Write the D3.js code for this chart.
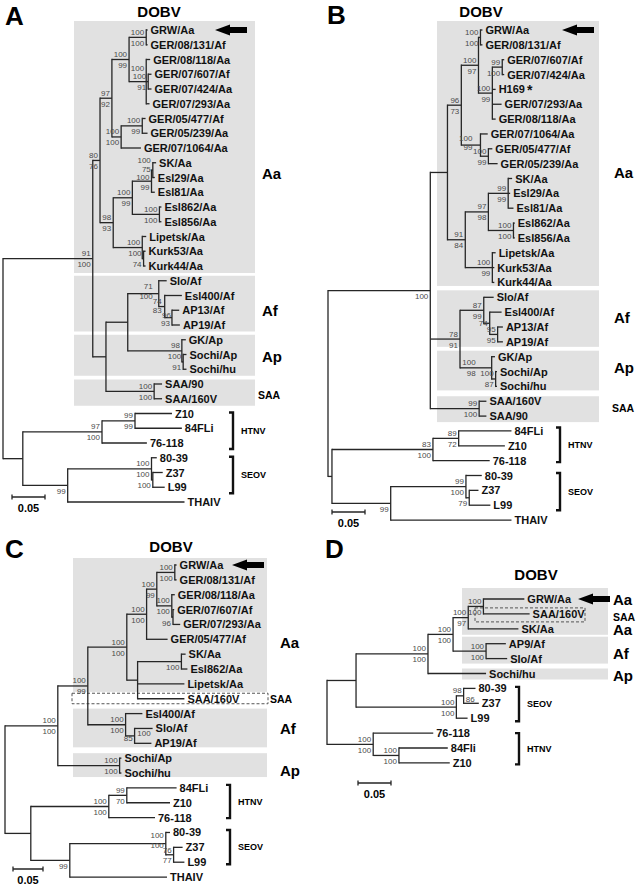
<!DOCTYPE html>
<html><head><meta charset="utf-8">
<script src="https://cdn.jsdelivr.net/npm/d3@7"></script>
<style>body{margin:0;background:#fff}svg{display:block}</style>
</head><body><svg id="c" width="639" height="887"></svg>
<script>
// ---------- DATA: [node, parent, branch length (subst./site), bootstrap "above|below"] ----------
const treeA = [
 ["rA",null,0,""],
 ["dobvA","rA",0.136,"91|100"],
 ["aaA","dobvA",0.011,"80|76"],
 ["gerA","aaA",0.018,"97|92"],
 ["a1","gerA",0.026,"100|99"],
 ["a2","a1",0.026,"100|100"],
 ["GRW/Aa","a2",0.002,""],
 ["GER/08/131/Af","a2",0.002,""],
 ["a3","a1",0.026,"100|"],
 ["GER/08/118/Aa","a3",0.006,""],
 ["a3b","a3",0.003,"100|91"],
 ["GER/07/607/Af","a3b",0.005,""],
 ["GER/07/424/Aa","a3b",0.005,""],
 ["GER/07/293/Aa","a3",0.005,""],
 ["a4","gerA",0.014,"100|100"],
 ["a5","a4",0.032,"100|99"],
 ["GER/05/477/Af","a5",0.005,""],
 ["GER/05/239/Aa","a5",0.008,""],
 ["GER/07/1064/Aa","a4",0.030,""],
 ["skA","aaA",0.020,"98|93"],
 ["a6","skA",0.029,"100|99"],
 ["a7","a6",0.029,"100|99"],
 ["a7b","a7",0.002,"100|75"],
 ["SK/Aa","a7b",0.005,""],
 ["Esl29/Aa","a7b",0.003,""],
 ["Esl81/Aa","a7",0.005,""],
 ["a8","a6",0.041,"100|100"],
 ["Esl862/Aa","a8",0.003,""],
 ["Esl856/Aa","a8",0.003,""],
 ["a9","skA",0.044,"100|"],
 ["Lipetsk/Aa","a9",0.006,""],
 ["a10","a9",0.002,"100|74"],
 ["Kurk53/Aa","a10",0.003,""],
 ["Kurk44/Aa","a10",0.003,""],
 ["a11","dobvA",0.020,""],
 ["a12","a11",0.033,""],
 ["afA","a12",0.047,"71|100"],
 ["Slo/Af","afA",0.012,""],
 ["a13","afA",0.009,"74|83"],
 ["Esl400/Af","a13",0.026,""],
 ["a14","a13",0.011,"96|93"],
 ["AP13/Af","a14",0.011,""],
 ["AP19/Af","a14",0.012,""],
 ["apA","a12",0.082,"98|"],
 ["GK/Ap","apA",0.006,""],
 ["a15","apA",0.002,"100|91"],
 ["Sochi/Ap","a15",0.005,""],
 ["Sochi/hu","a15",0.005,""],
 ["saaA","a11",0.073,"100|100"],
 ["SAA/90","saaA",0.012,""],
 ["SAA/160V","saaA",0.012,""],
 ["outA","rA",0.030,""],
 ["htnvA","outA",0.120,"97|100"],
 ["a16","htnvA",0.050,"99|99"],
 ["Z10","a16",0.056,""],
 ["84FLi","a16",0.071,""],
 ["76-118","htnvA",0.068,""],
 ["a17","outA",0.068,"|99"],
 ["seovA","a17",0.127,"100|100"],
 ["80-39","seovA",0.008,""],
 ["a18","seovA",0.002,"|100"],
 ["Z37","a18",0.015,""],
 ["L99","a18",0.018,""],
 ["THAIV","a17",0.177,""]
];
const treeB = [
 ["rB",null,0,""],
 ["dobvB","rB",0.155,"|100"],
 ["aaB","dobvB",0.026,""],
 ["gerB","aaB",0.021,"96|73"],
 ["b1","gerB",0.026,"100|97"],
 ["b2","b1",0.003,"100|100"],
 ["GRW/Aa","b2",0.003,""],
 ["GER/08/131/Af","b2",0.003,""],
 ["bH","b1",0.021,"100|99"],
 ["bH1","bH",0.015,"99|100"],
 ["GER/07/607/Af","bH1",0.003,""],
 ["GER/07/424/Aa","bH1",0.003,""],
 ["H169","bH",0.005,""],
 ["GER/07/293/Aa","bH",0.014,""],
 ["GER/08/118/Aa","bH",0.005,""],
 ["b3","gerB",0.029,"100|99"],
 ["GER/07/1064/Aa","b3",0.011,""],
 ["b4","b3",0.012,"100|99"],
 ["GER/05/477/Af","b4",0.006,""],
 ["GER/05/239/Aa","b4",0.014,""],
 ["skB","aaB",0.027,"91|84"],
 ["b5","skB",0.035,"97|98"],
 ["b6","b5",0.030,"99|99"],
 ["SK/Aa","b6",0.006,""],
 ["Esl29/Aa","b6",0.003,""],
 ["Esl81/Aa","b6",0.008,""],
 ["b7","b5",0.038,"100|100"],
 ["Esl862/Aa","b7",0.002,""],
 ["Esl856/Aa","b7",0.002,""],
 ["b8","skB",0.041,"100|99"],
 ["Lipetsk/Aa","b8",0.005,""],
 ["Kurk53/Aa","b8",0.003,""],
 ["Kurk44/Aa","b8",0.003,""],
 ["b9","dobvB",0.045,"78|91"],
 ["afB","b9",0.036,"87|99"],
 ["Slo/Af","afB",0.015,""],
 ["b10","afB",0.009,"|74"],
 ["Esl400/Af","b10",0.018,""],
 ["b11","b10",0.012,"95|95"],
 ["AP13/Af","b11",0.008,""],
 ["AP19/Af","b11",0.008,""],
 ["apB","b9",0.048,"100|98"],
 ["GK/Ap","apB",0.005,""],
 ["b12","apB",0.006,"100|87"],
 ["Sochi/Ap","b12",0.002,""],
 ["Sochi/hu","b12",0.002,""],
 ["saaB","dobvB",0.074,"99|100"],
 ["SAA/160V","saaB",0.011,""],
 ["SAA/90","saaB",0.011,""],
 ["outB","rB",0.006,""],
 ["htnvB","outB",0.153,"83|100"],
 ["b13","htnvB",0.039,"89|72"],
 ["84FLi","b13",0.080,""],
 ["Z10","b13",0.070,""],
 ["76-118","htnvB",0.086,""],
 ["b14","outB",0.089,"|99"],
 ["seovB","b14",0.114,"99|100"],
 ["80-39","seovB",0.024,""],
 ["b15","seovB",0.005,"|79"],
 ["Z37","b15",0.014,""],
 ["L99","b15",0.032,""],
 ["THAIV","b14",0.183,""]
];
const treeC = [
 ["rC",null,0,""],
 ["dobvC","rC",0.088,"100|100"],
 ["c0","dobvC",0.050,"100|99"],
 ["aaC","c0",0.065,"100|100"],
 ["gerC","aaC",0.033,"100|100"],
 ["c1","gerC",0.017,"100|99"],
 ["c2","c1",0.030,"100|100"],
 ["GRW/Aa","c2",0.003,""],
 ["GER/08/131/Af","c2",0.003,""],
 ["c3","c1",0.025,"100|100"],
 ["GER/08/118/Aa","c3",0.005,""],
 ["c3b","c3",0.002,"|96"],
 ["GER/07/607/Af","c3b",0.002,""],
 ["GER/07/293/Aa","c3b",0.012,""],
 ["GER/05/477/Af","gerC",0.035,""],
 ["c4","aaC",0.018,""],
 ["c5","c4",0.073,"|100"],
 ["SK/Aa","c5",0.007,""],
 ["Esl862/Aa","c5",0.010,""],
 ["Lipetsk/Aa","c4",0.078,""],
 ["SAA/160V","c4",0.078,""],
 ["afC","c0",0.063,"100|100"],
 ["Esl400/Af","afC",0.028,""],
 ["c6","afC",0.015,"100|85"],
 ["Slo/Af","c6",0.030,""],
 ["AP19/Af","c6",0.028,""],
 ["sochiC","dobvC",0.103,"100|100"],
 ["Sochi/Ap","sochiC",0.003,""],
 ["Sochi/hu","sochiC",0.003,""],
 ["outC","rC",0.043,""],
 ["htnvC","outC",0.130,"100|100"],
 ["c7","htnvC",0.030,"99|70"],
 ["84FLi","c7",0.083,""],
 ["Z10","c7",0.072,""],
 ["76-118","htnvC",0.077,""],
 ["c8","outC",0.065,"|99"],
 ["seovC","c8",0.160,"100|100"],
 ["80-39","seovC",0.007,""],
 ["c9","seovC",0.013,"76|77"],
 ["Z37","c9",0.015,""],
 ["L99","c9",0.018,""],
 ["THAIV","c8",0.162,""]
];
const treeD = [
 ["rD",null,0,""],
 ["d1","rD",0.044,""],
 ["dobvD","d1",0.109,"100|100"],
 ["d2","dobvD",0.038,"100|100"],
 ["d3","d2",0.023,"100|97"],
 ["d4","d3",0.023,"100|100"],
 ["GRW/Aa","d4",0.062,""],
 ["SAA/160V","d4",0.070,""],
 ["SK/Aa","d3",0.076,""],
 ["d5","d2",0.050,"100|100"],
 ["AP9/Af","d5",0.030,""],
 ["Slo/Af","d5",0.032,""],
 ["Sochi/hu","dobvD",0.088,""],
 ["seovD","d1",0.152,"100|100"],
 ["d6","seovD",0.011,"98|86"],
 ["80-39","d6",0.018,""],
 ["Z37","d6",0.023,""],
 ["L99","seovD",0.017,""],
 ["htnvD","rD",0.070,"100|100"],
 ["76-118","htnvD",0.091,""],
 ["d7","htnvD",0.039,"100|100"],
 ["84Fli","d7",0.074,""],
 ["Z10","d7",0.077,""]
];
// group labels: [text, anchor leaf]
const groupsA = [["Aa","Esl29/Aa"],["Af","AP13/Af"],["Ap","Sochi/Ap"],["SAA","SAA/160V"]];
const groupsB = [["Aa","SK/Aa"],["Af","Esl400/Af"],["Ap","Sochi/Ap"],["SAA","SAA/160V"]];
const groupsC = [["Aa","GER/05/477/Af"],["SAA","SAA/160V"],["Af","Slo/Af"],["Ap","Sochi/hu"]];
const groupsD = [["Aa","GRW/Aa"],["SAA","SAA/160V"],["Aa","SK/Aa"],["Af","Slo/Af"],["Ap","Sochi/hu"]];
// virus species brackets: [text, first leaf, last leaf]
const bracketsA = [["HTNV","Z10","76-118"],["SEOV","80-39","L99"]];
const bracketsB = [["HTNV","84FLi","76-118"],["SEOV","80-39","L99"]];
const bracketsC = [["HTNV","84FLi","76-118"],["SEOV","80-39","L99"]];
const bracketsD = [["SEOV","80-39","L99"],["HTNV","76-118","Z10"]];
// shaded clade boxes: [first leaf, last leaf]
const boxesA = [["GRW/Aa","Kurk44/Aa"],["Slo/Af","AP19/Af"],["GK/Ap","Sochi/hu"],["SAA/90","SAA/160V"]];
const boxesB = [["GRW/Aa","Kurk44/Aa"],["Slo/Af","AP19/Af"],["GK/Ap","Sochi/hu"],["SAA/160V","SAA/90"]];
const boxesC = [["GRW/Aa","Lipetsk/Aa"],["Esl400/Af","AP19/Af"],["Sochi/Ap","Sochi/hu"]];
const boxesD = [["GRW/Aa","SK/Aa"],["AP9/Af","Slo/Af"],["Sochi/hu","Sochi/hu"]];
const dashedC = [["SAA/160V","SAA/160V"]];
const dashedD = [["SAA/160V","SAA/160V"]];
const starred = ["H169"];
const scaleValue = 0.05;
const cladeTitle = "DOBV";

// ---------- LAYOUT / STYLE ----------
// nudges of crowded bootstrap labels: tx/ty (upper), bx/by (lower)
const labelAdjust = {
 a3:{ty:-8}, a7b:{ty:-5, by:-7}, a7:{ty:1}, afA:{tx:-4, bx:-4, ty:-2, by:-3}, a13:{tx:-1, bx:-1, ty:0, by:-2}, a14:{tx:1, ty:3},
 apB:{tx:-14, bx:-14}, b3:{tx:-6, bx:-6, ty:-2, by:-4}, b10:{by:-6},
 c6:{tx:18, ty:3, by:-3}, seovC:{ty:-3, by:-4}, c9:{ty:1},
 d6:{bx:13, by:-2}
};
const panels = [
 {letter:"A", tree:treeA, rootX:3, y0:30, step:14.75, barPx:33, letterXY:[5,25], titleXY:[159,17],
  boxX:[74,255], boxes:boxesA, boxPad:[[9,7],[5,6.5],[5,6.5],[4.5,7]], dashed:[], dashX:[0,0], dashPad:[],
  groups:groupsA, groupDy:[-4.5,0,1.5,-4], groupX:262, saaX:258,
  brackets:bracketsA, bracketX:233, bracketPad:[[1,6],[1,6]], arrowX:215, scaleXY:[12,497]},
 {letter:"B", tree:treeB, rootX:328, y0:30, step:14.85, barPx:33, letterXY:[327,24], titleXY:[481,17],
  boxX:[437,599], boxes:boxesB, boxPad:[[9,3.5],[7,5],[6,4],[5,6]], dashed:[], dashX:[0,0], dashPad:[],
  groups:groupsB, groupDy:[-6.5,5,-4.5,7], groupX:614, saaX:612,
  brackets:bracketsB, bracketX:560, bracketPad:[[3.5,1.5],[2.5,5]], arrowX:562, scaleXY:[332,512]},
 {letter:"C", tree:treeC, rootX:5, y0:565, step:14.86, barPx:30, letterXY:[5,558], titleXY:[171,552],
  boxX:[73,267], boxes:boxesC, boxPad:[[7,8],[5,4],[5,4]], dashed:dashedC, dashX:[72,268], dashPad:[[5.5,5]],
  groups:groupsC, groupDy:[3,0,0,-3], groupX:280, saaX:270,
  brackets:bracketsC, bracketX:230, bracketPad:[[3,0.5],[2.5,2]], arrowX:232, scaleXY:[13,869]},
 {letter:"D", tree:treeD, rootX:327, y0:599, step:14.9, barPx:33, letterXY:[325,558], titleXY:[536,580],
  boxX:[462,608], boxes:boxesD, boxPad:[[11,6],[7,5],[5,6]], dashed:dashedD, dashX:[475,585], dashPad:[[6,8]],
  groups:groupsD, groupDy:[0,3,1,-5,2], groupX:613, saaX:613,
  brackets:bracketsD, bracketX:519, bracketPad:[[1.5,3],[0,1.5]], arrowX:578, scaleXY:[358,783]}
];

const FONT = '"Liberation Sans", Arial, Helvetica, sans-serif';
const INK = "#262626";
const svg = d3.select("#c").style("font-family", FONT);

function arrowPath(x, y) {
  return `M${x},${y}L${x+15},${y-5.5}L${x+15},${y-3}L${x+32},${y-3}L${x+32},${y+3}L${x+15},${y+3}L${x+15},${y+5.5}Z`;
}

panels.forEach(p => {
  const g = svg.append("g");
  const root = d3.stratify().id(d => d[0]).parentId(d => d[1])(p.tree);
  root.eachBefore(n => n.len = n.parent ? n.parent.len + n.data[2] : 0);
  const leaves = root.leaves();
  const yS = d3.scaleLinear().domain([0, leaves.length - 1]).range([p.y0, p.y0 + p.step * (leaves.length - 1)]);
  const xS = d3.scaleLinear().domain([0, scaleValue]).range([p.rootX, p.rootX + p.barPx]);
  leaves.forEach((n, i) => n.py = yS(i));
  root.eachAfter(n => {
    if (n.children) n.py = (n.children[0].py + n.children[n.children.length - 1].py) / 2;
    n.px = xS(n.len);
  });
  const ly = new Map(leaves.map(n => [n.id, n.py]));

  // shaded boxes
  g.selectAll("rect.box").data(p.boxes).join("rect").attr("class", "box")
    .attr("x", p.boxX[0]).attr("width", p.boxX[1] - p.boxX[0])
    .attr("y", (b, i) => ly.get(b[0]) - p.boxPad[i][0])
    .attr("height", (b, i) => ly.get(b[1]) + p.boxPad[i][1] - (ly.get(b[0]) - p.boxPad[i][0]))
    .attr("fill", "#e1e1e1");
  g.selectAll("rect.dash").data(p.dashed).join("rect").attr("class", "dash")
    .attr("x", p.dashX[0]).attr("width", p.dashX[1] - p.dashX[0])
    .attr("y", (b, i) => ly.get(b[0]) - p.dashPad[i][0])
    .attr("height", (b, i) => ly.get(b[1]) + p.dashPad[i][1] - (ly.get(b[0]) - p.dashPad[i][0]))
    .attr("fill", "none").attr("stroke", "#555").attr("stroke-width", 1).attr("stroke-dasharray", "3,2");

  // branches
  const nodes = root.descendants();
  g.selectAll("path.h").data(nodes.filter(n => n.parent)).join("path").attr("class", "h")
    .attr("d", n => `M${n.parent.px},${n.py}H${n.px}`)
    .attr("stroke", INK).attr("stroke-width", 1.3).attr("fill", "none");
  g.selectAll("path.v").data(nodes.filter(n => n.children)).join("path").attr("class", "v")
    .attr("d", n => `M${n.px},${n.children[0].py}V${n.children[n.children.length - 1].py}`)
    .attr("stroke", INK).attr("stroke-width", 1.3).attr("fill", "none").attr("stroke-linecap", "square");

  // bootstrap values
  nodes.filter(n => n.children && n.data[3]).forEach(n => {
    const [top, bot] = n.data[3].split("|");
    const a = Object.assign({tx:0, ty:0, bx:0, by:0}, labelAdjust[n.id] || {});
    if (top) g.append("text").attr("x", n.px - 2 + a.tx).attr("y", n.py - 2.5 + a.ty).attr("text-anchor", "end")
      .attr("font-size", 8).attr("fill", "#4a4a4a").text(top);
    if (bot) g.append("text").attr("x", n.px - 2 + a.bx).attr("y", n.py + 8.5 + a.by).attr("text-anchor", "end")
      .attr("font-size", 8).attr("fill", "#4a4a4a").text(bot);
  });

  // leaf labels
  const lt = g.selectAll("text.leaf").data(leaves).join("text").attr("class", "leaf")
    .attr("x", n => n.px + 3).attr("y", n => n.py + 4)
    .attr("font-size", 11).attr("font-weight", "bold").attr("fill", "#111")
    .text(n => n.id);
  lt.filter(n => starred.includes(n.id)).append("tspan").attr("font-size", 14).attr("dx", 2).attr("dy", 2).text("*");

  // title, panel letter
  g.append("text").attr("x", p.titleXY[0]).attr("y", p.titleXY[1]).attr("text-anchor", "middle")
    .attr("font-size", 15).attr("font-weight", "bold").text(cladeTitle);
  g.append("text").attr("x", p.letterXY[0]).attr("y", p.letterXY[1])
    .attr("font-size", 26).attr("font-weight", "bold").text(p.letter);

  // group labels
  p.groups.forEach((gr, i) => {
    const big = gr[0] !== "SAA";
    g.append("text").attr("x", big ? p.groupX : p.saaX).attr("y", ly.get(gr[1]) + p.groupDy[i])
      .attr("dominant-baseline", "central").attr("font-size", big ? 15 : 10.5).attr("font-weight", "bold")
      .text(gr[0]);
  });

  // brackets
  p.brackets.forEach((br, i) => {
    const y1 = ly.get(br[1]) - p.bracketPad[i][0], y2 = ly.get(br[2]) + p.bracketPad[i][1];
    g.append("path").attr("d", `M${p.bracketX - 4},${y1}H${p.bracketX}V${y2}H${p.bracketX - 4}`)
      .attr("fill", "none").attr("stroke", "#111").attr("stroke-width", 2.4);
    g.append("text").attr("x", p.bracketX + 8).attr("y", (y1 + y2) / 2).attr("dominant-baseline", "central")
      .attr("font-size", 9).attr("font-weight", "bold").text(br[0]);
  });

  // arrow pointing at GRW
  g.append("path").attr("d", arrowPath(p.arrowX, ly.get("GRW/Aa"))).attr("fill", "#000");

  // scale bar
  const [sx, sy] = p.scaleXY, len = xS(scaleValue) - xS(0);
  g.append("path").attr("d", `M${sx},${sy}H${sx + len}M${sx},${sy - 2.5}V${sy + 2.5}M${sx + len},${sy - 2.5}V${sy + 2.5}`)
    .attr("stroke", INK).attr("stroke-width", 1.3).attr("fill", "none");
  g.append("text").attr("x", sx + len / 2).attr("y", sy + 15).attr("text-anchor", "middle")
    .attr("font-size", 11).attr("font-weight", "bold").text(String(scaleValue));
});
</script>
</body></html>
